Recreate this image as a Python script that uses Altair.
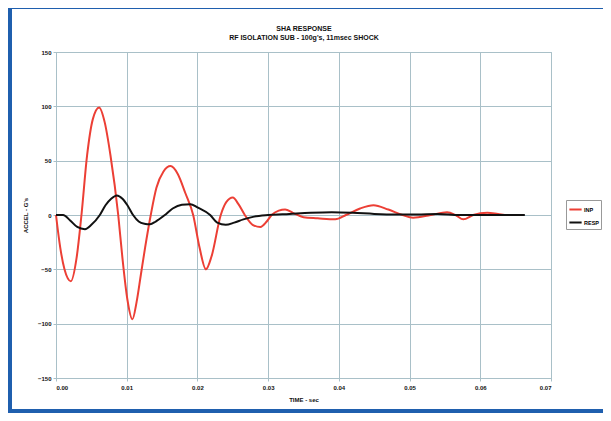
import altair as alt
import pandas as pd

# Red trace (input)
red_t = [0.0000, 0.0006, 0.0012, 0.0021, 0.0029, 0.0036, 0.0044, 0.0052, 0.0061, 0.0069,
         0.0077, 0.0088, 0.0094, 0.0101, 0.0108, 0.0114, 0.0120, 0.0126, 0.0134, 0.0142,
         0.0152, 0.0162, 0.0172, 0.0183, 0.0194, 0.0203, 0.0212, 0.0220, 0.0233, 0.0241,
         0.0250, 0.0258, 0.0267, 0.0278, 0.0289, 0.0298, 0.0305, 0.0315, 0.0324, 0.0335,
         0.0350, 0.0370, 0.0395, 0.0410, 0.0430, 0.0449, 0.0470, 0.0490, 0.0505, 0.0530,
         0.0553, 0.0565, 0.0576, 0.0590, 0.0610, 0.0625, 0.0638, 0.0648]
red_v = [0, -30, -50, -61, -40, 0, 55, 88, 99, 85,
         55, 0, -40, -78, -96, -80, -55, -30, 0, 25,
         40, 45, 38, 20, 0, -30, -50, -38, 0, 12,
         16, 10, 0, -9, -11, -6, 0, 4, 5, 2,
         -2, -3, -4, 0, 6, 9, 5, 0, -2.5, 0,
         2.5, 0, -4, 0, 2, 1, 0, 0]

# Black trace (response)
blk_t = [0.0000, 0.0010, 0.0020, 0.0030, 0.0041, 0.0050, 0.0062, 0.0070, 0.0078, 0.0086,
         0.0094, 0.0101, 0.0109, 0.0117, 0.0125, 0.0133, 0.0141, 0.0154, 0.0165, 0.0178,
         0.0190, 0.0200, 0.0218, 0.0228, 0.0240, 0.0252, 0.0265, 0.0280, 0.0300, 0.0330,
         0.0360, 0.0390, 0.0420, 0.0450, 0.0480, 0.0510, 0.0540, 0.0570, 0.0620, 0.0663]
blk_v = [0, 0, -5, -11, -13, -9, 0, 9, 15, 18,
         15, 9, 0, -6, -8, -8.5, -6, 0, 6, 9.5,
         10, 7, 0, -7, -9, -7, -4, -1.5, 0, 1,
         2, 2.5, 2, 1, 0.5, 0.5, 1, 0, 0, 0]

series_names = ["INP", "RESP"]
series_colors = ["#ec3f35", "#111111"]
x_ticks = [0.00, 0.01, 0.02, 0.03, 0.04, 0.05, 0.06, 0.07]
y_ticks = [-150, -100, -50, 0, 50, 100, 150]
title_lines = ["SHA RESPONSE", "RF ISOLATION SUB - 100g's, 11msec SHOCK"]

df = pd.concat([
    pd.DataFrame({"t": red_t, "v": red_v, "s": series_names[0]}),
    pd.DataFrame({"t": blk_t, "v": blk_v, "s": series_names[1]}),
])

FONT = "Liberation Sans"
GRID = "#a9c0c8"

lines = alt.Chart(df).mark_line(interpolate="monotone", strokeWidth=2).encode(
    x=alt.X("t:Q", title="TIME - sec",
            scale=alt.Scale(domain=[0, 0.07], nice=False),
            axis=alt.Axis(values=x_ticks, format=".2f")),
    y=alt.Y("v:Q", title="ACCEL - G's",
            scale=alt.Scale(domain=[-150, 150], nice=False),
            axis=alt.Axis(values=y_ticks)),
    color=alt.Color("s:N", scale=alt.Scale(domain=series_names, range=series_colors),
                    legend=alt.Legend(title=None, orient="none", legendX=510, legendY=148,
                                      symbolType="stroke", symbolSize=150,
                                      symbolStrokeWidth=2, labelFontSize=5.5,
                                      labelFontWeight="bold", labelFont=FONT,
                                      rowPadding=1, padding=2, strokeColor="#999999",
                                      fillColor="white", labelOffset=1)),
    order=alt.Order("t:Q"),
)

frame = alt.Chart(pd.DataFrame({"a": [0]})).mark_rect(
    fill=None, stroke="#1f5fae", strokeWidth=4
).encode(x=alt.value(-46), x2=alt.value(549), y=alt.value(-45), y2=alt.value(359))

t1 = alt.Chart(pd.DataFrame({"txt": [title_lines[0]]})).mark_text(
    fontSize=7, fontWeight="bold", font=FONT, color="#111111", baseline="middle"
).encode(text="txt:N", x=alt.value(248), y=alt.value(-23))
t2 = alt.Chart(pd.DataFrame({"txt": [title_lines[1]]})).mark_text(
    fontSize=7, fontWeight="bold", font=FONT, color="#111111", baseline="middle"
).encode(text="txt:N", x=alt.value(248), y=alt.value(-14))

chart = alt.layer(frame, lines, t1, t2).properties(
    width=495, height=326,
    padding={"left": 48, "right": 52, "top": 44, "bottom": 35},
    autosize=alt.AutoSizeParams(type="none"),
    background="white",
).configure_axis(
    gridColor=GRID, domainColor=GRID, tickColor=GRID, gridWidth=1,
    labelFontSize=6, labelFontWeight="bold", labelFont=FONT, labelColor="#111111",
    titleFontSize=6, titleFontWeight="bold", titleFont=FONT, titleColor="#111111",
    tickSize=3,
).configure_axisY(titlePadding=9, labelPadding=2).configure_axisX(titlePadding=6, labelPadding=3).configure_view(
    stroke=GRID
)

chart.save("out.html", embed_options={"renderer": "svg", "actions": False})
